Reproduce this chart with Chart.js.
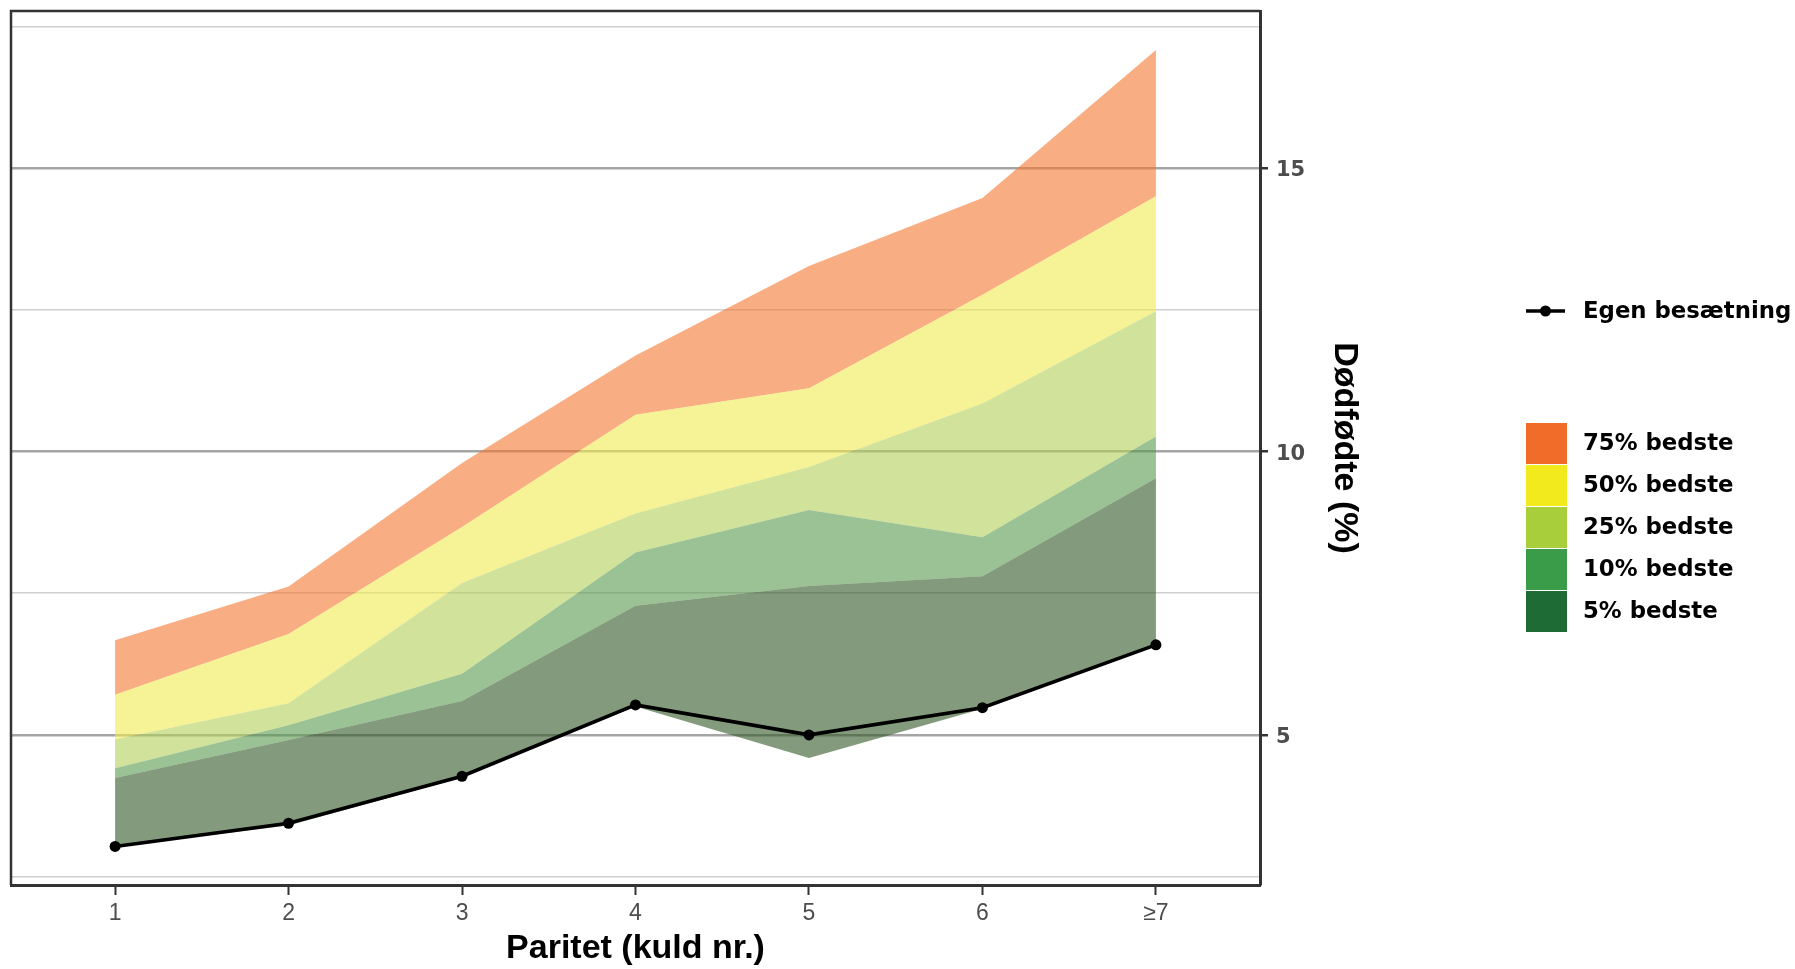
<!DOCTYPE html>
<html>
<head>
<meta charset="utf-8">
<script src="https://cdn.jsdelivr.net/npm/chart.js@4.4.1/dist/chart.umd.min.js"></script>
<style>
  html, body { margin: 0; padding: 0; background: #ffffff; overflow: hidden; }
  #wrap { position: relative; width: 1795px; height: 969px; }
  canvas { display: block; }
</style>
</head>
<body>
<div id="wrap"><canvas id="c" width="1795" height="969"></canvas></div>
<script>
// ---- Data ----
const categories = ['1', '2', '3', '4', '5', '6', '\u22657'];
const egenBesaetning = [3.03, 3.44, 4.27, 5.53, 5.00, 5.48, 6.59];
const minimum   = [3.03, 3.40, 4.25, 5.50, 4.59, 5.46, 6.59];
const best5     = [4.24, 4.91, 5.60, 7.28, 7.63, 7.80, 9.53];
const best10    = [4.41, 5.17, 6.08, 8.22, 8.97, 8.49, 10.27];
const best25    = [4.92, 5.56, 7.68, 8.91, 9.73, 10.85, 12.48];
const best50    = [5.71, 6.78, 8.67, 10.65, 11.12, 12.77, 14.51];
const best75    = [6.67, 7.62, 9.80, 11.70, 13.28, 14.48, 17.09];
const yTicks    = [2.5, 5, 7.5, 10, 12.5, 15, 17.5];
const yMajor    = [5, 10, 15];

const bandLabels = ['75% bedste', '50% bedste', '25% bedste', '10% bedste', '5% bedste'];
const legendColors = ['#F26C29', '#F2EA1C', '#A9CE3C', '#3A9B48', '#1F6B36'];
const fillColors = {
  b75: 'rgba(243,120,47,0.6)',
  b50: 'rgba(240,233,80,0.6)',
  b25: 'rgba(178,207,88,0.6)',
  b10: 'rgba(88,153,77,0.6)',
  b5:  'rgba(48,88,37,0.6)'
};

const toXY = arr => arr.map((v, i) => ({ x: i, y: v }));

function band(label, data, fillIdx, color) {
  return {
    label: label,
    data: toXY(data),
    borderColor: 'transparent',
    borderWidth: 0,
    pointRadius: 0,
    backgroundColor: color,
    fill: fillIdx,
    tension: 0
  };
}

const datasets = [
  {
    label: 'Egen bes\u00e6tning',
    data: toXY(egenBesaetning),
    borderColor: '#000000',
    backgroundColor: '#000000',
    borderWidth: 3.6,
    pointRadius: 5.5,
    pointBackgroundColor: '#000000',
    pointBorderWidth: 0,
    fill: false,
    tension: 0
  },
  { label: 'min', data: toXY(minimum), borderColor: 'transparent', borderWidth: 0, pointRadius: 0, fill: false },
  band('5% bedste', best5, 1, fillColors.b5),
  band('10% bedste', best10, 2, fillColors.b10),
  band('25% bedste', best25, 3, fillColors.b25),
  band('50% bedste', best50, 4, fillColors.b50),
  band('75% bedste', best75, 5, fillColors.b75)
];

const decor = {
  id: 'decor',
  afterDraw(chart) {
    const { ctx, chartArea: a } = chart;
    ctx.save();
    // panel border (top/left)
    ctx.strokeStyle = '#333333';
    ctx.lineWidth = 2.5;
    ctx.beginPath();
    ctx.moveTo(a.left, a.bottom); ctx.lineTo(a.left, a.top); ctx.lineTo(a.right, a.top);
    ctx.stroke();

    // x title
    ctx.fillStyle = '#000000';
    ctx.font = 'bold 34px "Liberation Sans", Arial, sans-serif';
    ctx.textAlign = 'center';
    ctx.textBaseline = 'alphabetic';
    ctx.fillText('Paritet (kuld nr.)', (a.left + a.right) / 2, 958);

    // y title (rotated clockwise, right side)
    ctx.save();
    ctx.translate(1335, (a.top + a.bottom) / 2);
    ctx.rotate(Math.PI / 2);
    ctx.textAlign = 'center';
    ctx.textBaseline = 'alphabetic';
    ctx.fillText('D\u00f8df\u00f8dte (%)', 0, 0);
    ctx.restore();

    // legend: own herd
    ctx.strokeStyle = '#000000';
    ctx.lineWidth = 3.6;
    ctx.beginPath();
    ctx.moveTo(1526, 311); ctx.lineTo(1565, 311);
    ctx.stroke();
    ctx.beginPath();
    ctx.arc(1545.5, 311, 5.5, 0, Math.PI * 2);
    ctx.fillStyle = '#000000';
    ctx.fill();
    ctx.font = 'bold 22.8px "DejaVu Sans", sans-serif';
    ctx.textAlign = 'left';
    ctx.textBaseline = 'middle';
    ctx.fillText('Egen bes\u00e6tning', 1583, 312);

    // legend: bands
    for (let i = 0; i < bandLabels.length; i++) {
      const top = 423 + i * 42;
      ctx.fillStyle = legendColors[i];
      ctx.fillRect(1526, top, 41, 41);
      ctx.fillStyle = '#000000';
      ctx.fillText(bandLabels[i], 1583, top + 21);
    }
    ctx.restore();
  }
};

new Chart(document.getElementById('c'), {
  type: 'line',
  data: { datasets: datasets },
  options: {
    responsive: false,
    animation: false,
    devicePixelRatio: 1,
    layout: { padding: { left: 11, top: 11, right: 0, bottom: 0 } },
    plugins: {
      legend: { display: false },
      tooltip: { enabled: false },
      filler: { propagate: false }
    },
    scales: {
      x: {
        type: 'linear',
        min: -0.6,
        max: 6.6,
        afterBuildTicks: s => { s.ticks = categories.map((c, i) => ({ value: i })); },
        afterFit: s => { s.height = 84; s.paddingLeft = 0; s.paddingRight = 0; },
        ticks: {
          autoSkip: false,
          maxRotation: 0,
          padding: 5,
          color: '#4D4D4D',
          font: { family: '"Liberation Sans", Arial, sans-serif', size: 23 },
          callback: v => categories[v]
        },
        grid: {
          drawOnChartArea: false,
          drawTicks: true,
          tickLength: 10,
          tickColor: '#333333',
          tickWidth: 2
        },
        border: { display: true, color: '#333333', width: 3 }
      },
      y: {
        type: 'linear',
        position: 'right',
        min: 2.35,
        max: 17.78,
        afterBuildTicks: s => { s.ticks = yTicks.map(v => ({ value: v })); },
        afterFit: s => { s.width = 535; s.paddingTop = 0; s.paddingBottom = 0; },
        ticks: {
          autoSkip: false,
          padding: 8,
          labelOffset: 2.5,
          color: '#4D4D4D',
          font: { family: '"DejaVu Sans", sans-serif', size: 21, weight: 'bold' },
          callback: v => (yMajor.includes(v) ? String(v) : '')
        },
        grid: {
          drawOnChartArea: true,
          drawTicks: true,
          tickLength: 8,
          color: ctx => (yMajor.includes(ctx.tick.value) ? '#A5A5A5' : '#CFCFCF'),
          lineWidth: ctx => (yMajor.includes(ctx.tick.value) ? 2.5 : 1.6),
          tickColor: ctx => (yMajor.includes(ctx.tick.value) ? '#333333' : 'rgba(0,0,0,0)'),
          tickWidth: 2.5
        },
        border: { display: true, color: '#333333', width: 3 }
      }
    }
  },
  plugins: [decor]
});
</script>
</body>
</html>
